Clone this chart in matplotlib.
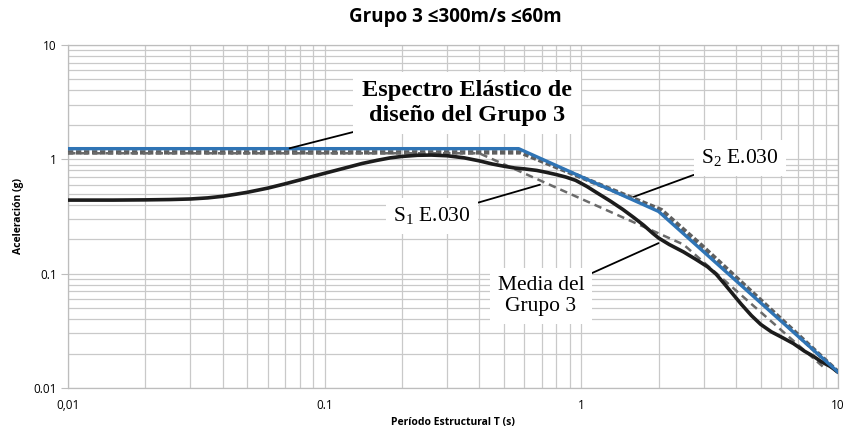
import matplotlib
matplotlib.use("Agg")
import matplotlib.pyplot as plt
from matplotlib.ticker import FixedLocator, FixedFormatter, LogLocator, NullFormatter

plt.rcParams["mathtext.fontset"] = "custom"
plt.rcParams["mathtext.rm"] = "Liberation Serif"
plt.rcParams["mathtext.it"] = "Liberation Serif:italic"
plt.rcParams["mathtext.bf"] = "Liberation Serif:bold"

# ---- data ----
s2_T = [0.01, 0.57, 2.0, 10.0]
s2_A = [1.24, 1.24, 0.35, 0.0138]

s1_T = [0.01, 0.40, 2.5, 9.0]
s1_A = [1.13, 1.13, 0.18, 0.0145]

dis_T = [0.01, 0.58, 2.05, 2.95, 10.0]
dis_A = [1.15, 1.15, 0.36, 0.175, 0.0138]

med_T = [0.01, 0.015, 0.02, 0.025, 0.03, 0.035, 0.04, 0.045, 0.05, 0.06, 0.07, 0.08,
         0.09, 0.1, 0.12, 0.14, 0.16, 0.18, 0.2, 0.23, 0.26, 0.3, 0.35, 0.4, 0.45,
         0.5, 0.55, 0.6, 0.67, 0.73, 0.8, 0.87, 0.95, 1.05, 1.15, 1.3, 1.45, 1.6,
         1.75, 1.9, 2.0, 2.2, 2.5, 2.8, 3.1, 3.35, 3.6, 3.9, 4.2, 4.6, 5.0, 5.5,
         6.0, 6.7, 7.4, 8.0, 8.6, 9.3, 10.0]
med_A = [0.44, 0.44, 0.442, 0.445, 0.45, 0.46, 0.475, 0.495, 0.515, 0.56, 0.61, 0.66,
         0.71, 0.755, 0.84, 0.92, 0.98, 1.03, 1.06, 1.085, 1.09, 1.075, 1.03, 0.97, 0.91,
         0.87, 0.84, 0.825, 0.80, 0.77, 0.735, 0.70, 0.655, 0.58, 0.51, 0.43, 0.365, 0.31,
         0.265, 0.225, 0.205, 0.18, 0.155, 0.133, 0.115, 0.099, 0.082, 0.066, 0.054, 0.043, 0.036, 0.031,
         0.028, 0.0245, 0.021, 0.019, 0.017, 0.0155, 0.0138]

xticks = [0.01, 0.1, 1, 10]
xtick_labels = ["0,01", "0.1", "1", "10"]
yticks = [0.01, 0.1, 1, 10]
ytick_labels = ["0.01", "0.1", "1", "10"]

title = "Grupo 3 \u2264300m/s \u226460m"
xlabel = "Período Estructural T (s)"
ylabel = "Aceleración (g)"

# ---- figure ----
fig = plt.figure(figsize=(8.47, 4.34), dpi=100)
ax = fig.add_axes([68/847, 1-388/434, 770/847, 343/434])
ax.set_xscale("log")
ax.set_yscale("log")
ax.set_xlim(0.01, 10)
ax.set_ylim(0.01, 10)

ax.xaxis.set_major_locator(FixedLocator(xticks))
ax.xaxis.set_major_formatter(FixedFormatter(xtick_labels))
ax.yaxis.set_major_locator(FixedLocator(yticks))
ax.yaxis.set_major_formatter(FixedFormatter(ytick_labels))
ax.xaxis.set_minor_locator(LogLocator(base=10, subs=range(2, 10)))
ax.yaxis.set_minor_locator(LogLocator(base=10, subs=range(2, 10)))
ax.xaxis.set_minor_formatter(NullFormatter())
ax.yaxis.set_minor_formatter(NullFormatter())

ax.grid(True, which="both", color="#c9c9c9", lw=0.9, zorder=0)
ax.set_axisbelow(True)
for s in ax.spines.values():
    s.set_color("#bdbdbd")
    s.set_linewidth(0.9)

ax.tick_params(axis="both", which="minor", length=0)
ax.tick_params(axis="y", which="major", length=5, color="#bdbdbd", labelsize=8.5, pad=3)
ax.tick_params(axis="x", which="major", length=0, labelsize=8.5, pad=8)
for lab in ax.get_xticklabels() + ax.get_yticklabels():
    lab.set_fontfamily("Open Sans")

# curves
ax.plot(dis_T, dis_A, color="#5f5f5f", lw=3.2, dashes=(1.2, 0.6), zorder=3, solid_capstyle="butt")
ax.plot(s1_T, s1_A, color="#6a6a6a", lw=1.8, dashes=(3, 2), zorder=3)
ax.plot(med_T, med_A, color="#1c1c1c", lw=2.6, zorder=4, solid_joinstyle="round")
ax.plot(s2_T, s2_A, color="#2f74b5", lw=2.4, zorder=5)

# annotations
def fx(px):
    return (px - 68) / 770
def fy(py):
    return (388 - py) / 343

bbox = dict(boxstyle="square,pad=0.35", fc="white", ec="none")
arrow = dict(arrowstyle="-", color="black", lw=1.3, shrinkA=0, shrinkB=0)

ax.annotate("Espectro Elástico de\ndiseño del Grupo 3", xy=(0.073, 1.25), xycoords="data",
            xytext=(fx(467), fy(103)), textcoords="axes fraction",
            ha="center", va="center", fontsize=17.5, fontweight="bold",
            family="Liberation Serif", linespacing=1.2, bbox=bbox, arrowprops=arrow, zorder=6)
ax.annotate(r"S$_\mathrm{2}$ E.030", xy=(1.6, 0.47), xycoords="data",
            xytext=(fx(740), fy(158)), textcoords="axes fraction",
            ha="center", va="center", fontsize=15.5, family="Liberation Serif",
            bbox=bbox, arrowprops=arrow, zorder=6)
ax.annotate(r"S$_\mathrm{1}$ E.030", xy=(0.69, 0.6), xycoords="data",
            xytext=(fx(432), fy(216)), textcoords="axes fraction",
            ha="center", va="center", fontsize=15.5, family="Liberation Serif",
            bbox=bbox, arrowprops=arrow, zorder=6)
ax.annotate("Media del\nGrupo 3", xy=(2.0, 0.185), xycoords="data",
            xytext=(fx(541), fy(296)), textcoords="axes fraction",
            ha="center", va="center", fontsize=15.5, family="Liberation Serif",
            linespacing=1.2, bbox=bbox, arrowprops=arrow, zorder=6)

fig.text(455/847, 1-17/434, title, ha="center", va="center", fontsize=13.5,
         fontweight="bold", family="Open Sans")
fig.text(453/847, 1-422/434, xlabel, ha="center", va="center", fontsize=7.5,
         fontweight="bold", family="Open Sans")
fig.text(18/847, 1-216/434, ylabel, ha="center", va="center", fontsize=7.5,
         fontweight="bold", family="Open Sans", rotation=90)

fig.savefig("out.png", dpi=100)
